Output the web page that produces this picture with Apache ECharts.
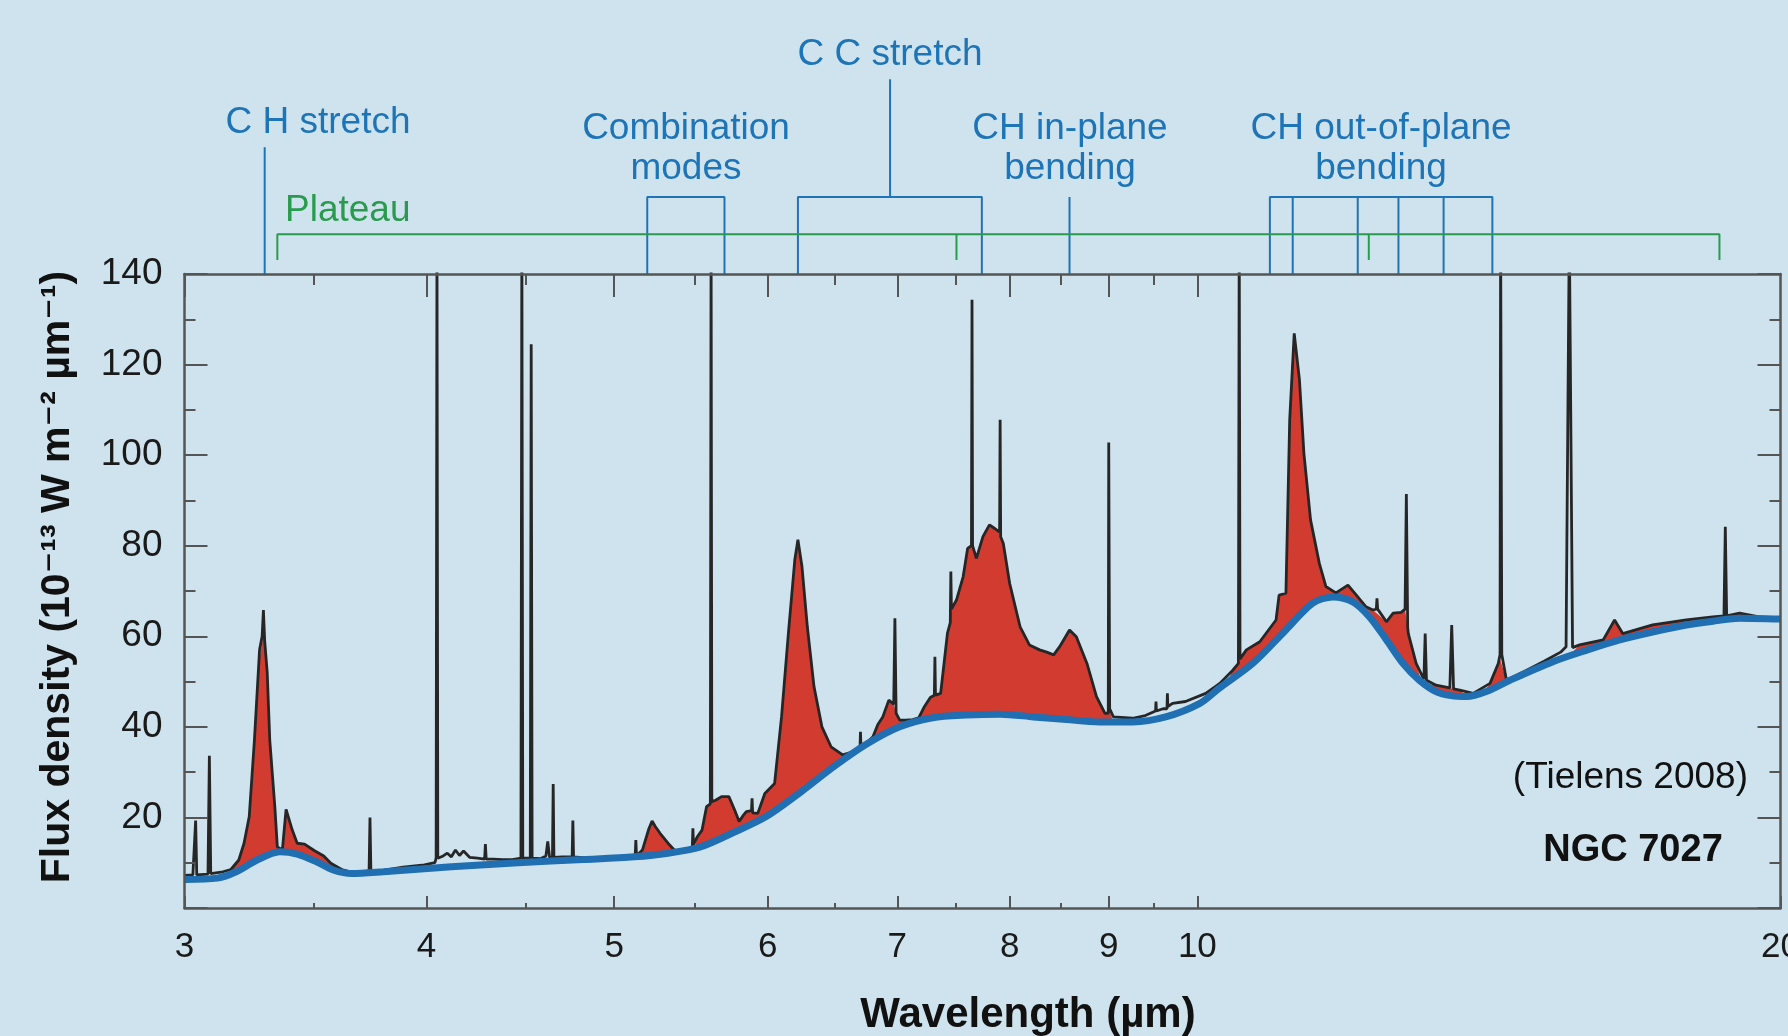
<!DOCTYPE html>
<html>
<head>
<meta charset="utf-8">
<script src="https://cdn.jsdelivr.net/npm/echarts@6/dist/echarts.min.js"></script>
<style>
html, body { margin: 0; padding: 0; background: #cfe3ee; }
#main { width: 1788px; height: 1036px; }
</style>
</head>
<body>
<div id="main"></div>
<script>
// wavelength ticks (micron)
var majorTicks = [3, 4, 5, 6, 7, 8, 9, 10, 20];
var topMajorTicks = [3, 4, 5, 6, 7, 8, 9, 10];
var minorTicks = [3.5, 4.5, 5.5, 6.5, 7.5, 8.5, 9.5];

// smooth continuum under the PAH bands [micron, flux]
var continuum = [
	[3.00, 6.3], [3.12, 6.6], [3.19, 8.0], [3.27, 10.6], [3.36, 12.4], [3.43, 11.9], [3.51, 10.2],
	[3.58, 8.4], [3.66, 7.6], [3.80, 8.0], [4.12, 9.1], [4.46, 10.0], [4.82, 10.7], [5.12, 11.3],
	[5.33, 12.1], [5.54, 13.5], [5.75, 16.5], [5.99, 20.2], [6.25, 25.8], [6.49, 31.2], [6.75, 36.2],
	[7.02, 40.0], [7.30, 42.0], [7.60, 42.6], [7.91, 42.8], [8.23, 42.2], [8.56, 41.6], [8.90, 41.1],
	[9.26, 41.1], [9.63, 42.2], [10.03, 45.2], [10.26, 48.5], [10.68, 54.0], [11.11, 61.4],
	[11.47, 67.3], [11.75, 68.7], [12.03, 67.6], [12.27, 64.3], [12.52, 59.2], [12.77, 54.0],
	[13.02, 50.3], [13.28, 47.8], [13.52, 46.9], [13.77, 46.7], [14.10, 47.8], [14.50, 50.3],
	[15.26, 54.4], [15.90, 57.0], [16.52, 59.2], [17.20, 61.0], [17.88, 62.5], [18.50, 63.4],
	[19.05, 64.0], [20.00, 63.8]
];

// observed spectrum, with the narrow emission lines [micron, flux]
var spectrum = [
	[3.00, 7.2], [3.03, 7.3], [3.036, 7.3], [3.04, 19.3], [3.044, 7.3], [3.085, 7.5], [3.09, 33.6],
	[3.095, 7.6], [3.14, 8.0], [3.17, 8.5], [3.20, 10.6], [3.22, 14.3], [3.24, 20.2], [3.26, 37.1],
	[3.28, 57.0], [3.29, 60.0], [3.295, 65.8], [3.30, 59.0], [3.31, 52.0], [3.32, 37.1], [3.34, 22.4],
	[3.35, 13.5], [3.37, 12.8], [3.385, 21.8], [3.41, 17.2], [3.43, 14.3], [3.46, 14.1], [3.50, 12.7],
	[3.54, 11.5], [3.57, 9.9], [3.62, 8.4], [3.66, 7.9], [3.72, 8.1], [3.736, 8.2], [3.74, 20.0],
	[3.744, 8.2], [3.80, 8.3], [3.89, 9.0], [3.99, 9.5], [4.04, 10.0], [4.046, 11.0], [4.05, 150],
	[4.054, 11.0], [4.08, 11.5], [4.10, 12.1], [4.12, 11.3], [4.14, 12.8], [4.16, 11.6], [4.18, 12.6],
	[4.21, 11.2], [4.25, 11.0], [4.286, 10.8], [4.29, 14.1], [4.294, 10.8], [4.33, 10.8], [4.38, 10.7],
	[4.43, 10.7], [4.475, 11.0], [4.48, 150], [4.485, 11.0], [4.525, 11.0], [4.53, 124.5], [4.535, 11.0],
	[4.58, 10.9], [4.61, 11.5], [4.62, 14.7], [4.63, 11.2], [4.646, 11.2], [4.65, 27.4], [4.654, 11.2],
	[4.70, 11.3], [4.756, 11.3], [4.76, 19.3], [4.764, 11.3], [4.85, 11.0], [4.95, 11.2], [5.05, 11.3],
	[5.126, 11.5], [5.13, 15.0], [5.134, 11.5], [5.17, 12.8], [5.21, 17.5], [5.23, 19.2], [5.25, 18.0],
	[5.28, 16.5], [5.33, 14.3], [5.37, 12.8], [5.42, 12.6], [5.486, 13.2], [5.49, 17.6], [5.494, 14.0],
	[5.52, 15.8], [5.55, 17.2], [5.58, 22.4], [5.605, 23.0], [5.61, 150], [5.615, 23.5], [5.64, 23.8],
	[5.68, 24.6], [5.73, 24.6], [5.77, 21.6], [5.80, 19.1], [5.83, 20.5], [5.85, 21.3], [5.886, 21.5],
	[5.89, 24.2], [5.894, 21.0], [5.93, 20.9], [5.98, 25.3], [6.05, 27.5], [6.10, 42.2], [6.15, 60.7],
	[6.197, 76.9], [6.22, 81.3], [6.25, 75.4], [6.29, 62.1], [6.34, 48.9], [6.40, 40.0], [6.47, 35.6],
	[6.56, 33.8], [6.64, 34.5], [6.696, 35.0], [6.70, 38.9], [6.704, 35.5], [6.75, 36.5], [6.80, 37.8],
	[6.84, 40.5], [6.88, 42.2], [6.93, 45.9], [6.97, 45.0], [6.98, 64.0], [6.99, 43.0], [7.02, 41.5],
	[7.07, 41.5], [7.13, 41.6], [7.18, 42.0], [7.23, 44.5], [7.28, 46.5], [7.315, 47.0], [7.32, 55.5],
	[7.325, 47.0], [7.37, 47.4], [7.43, 60.7], [7.455, 63.0], [7.46, 74.3], [7.465, 66.0], [7.51, 68.0],
	[7.57, 73.2], [7.61, 79.4], [7.645, 80.0], [7.65, 134.3], [7.655, 80.0], [7.69, 77.2], [7.75, 82.0],
	[7.81, 84.6], [7.86, 83.8], [7.905, 83.0], [7.91, 107.8], [7.915, 82.0], [7.94, 80.5], [8.00, 71.7],
	[8.10, 62.1], [8.19, 58.1], [8.29, 57.0], [8.36, 56.5], [8.43, 55.9], [8.49, 57.7], [8.59, 61.4],
	[8.66, 59.9], [8.77, 54.0], [8.87, 46.7], [8.96, 43.0], [8.995, 43.0], [9.00, 102.8], [9.01, 44.0],
	[9.05, 42.2], [9.26, 41.9], [9.40, 42.5], [9.515, 43.5], [9.52, 45.6], [9.525, 43.5], [9.60, 44.0],
	[9.645, 44.0], [9.65, 47.4], [9.655, 44.5], [9.71, 45.2], [9.86, 45.6], [10.10, 47.4], [10.27, 49.6],
	[10.43, 52.5], [10.50, 54.0], [10.51, 150], [10.52, 55.0], [10.60, 57.0], [10.77, 58.8],
	[10.98, 63.6], [11.02, 69.1], [11.11, 69.5], [11.16, 107.8], [11.22, 126.9], [11.29, 116.6],
	[11.35, 100.4], [11.44, 85.7], [11.56, 76.1], [11.65, 71.0], [11.79, 69.6], [11.96, 71.3],
	[12.08, 69.1], [12.22, 66.5], [12.32, 65.8], [12.37, 66.0], [12.38, 68.4], [12.39, 66.0],
	[12.52, 63.2], [12.62, 65.1], [12.74, 65.3], [12.80, 66.0], [12.82, 91.4], [12.84, 62.0],
	[12.85, 60.6], [12.97, 54.0], [13.09, 50.5], [13.11, 60.6], [13.13, 50.3], [13.28, 49.2],
	[13.50, 48.6], [13.53, 62.5], [13.56, 48.4], [13.66, 48.1], [13.88, 47.4], [14.16, 49.6],
	[14.30, 54.0], [14.33, 56.0], [14.34, 150], [14.36, 56.0], [14.44, 50.3], [14.79, 52.5],
	[15.10, 54.5], [15.40, 56.5], [15.50, 57.7], [15.56, 150], [15.62, 57.5], [15.75, 58.1],
	[16.20, 59.2], [16.42, 63.6], [16.58, 60.6], [17.18, 62.5], [17.88, 63.6], [18.45, 64.3],
	[18.70, 64.5], [18.73, 84.2], [18.76, 64.5], [19.05, 65.1], [19.50, 64.3], [20.00, 63.8]
];

// PAH emission (red) - upper edge of each band
var band33 = [
	[3.16, 7.6], [3.20, 10.6], [3.22, 14.3], [3.24, 20.2], [3.26, 37.1], [3.28, 55.0], [3.29, 58.5],
	[3.295, 60.0], [3.30, 58.5], [3.31, 52.0], [3.32, 37.1], [3.34, 22.4], [3.35, 13.5], [3.37, 12.8],
	[3.385, 21.8], [3.41, 17.2], [3.43, 14.3], [3.46, 14.1], [3.50, 12.7], [3.54, 11.5], [3.57, 9.9],
	[3.62, 8.0]
];
var band525 = [
	[5.15, 11.2], [5.17, 12.8], [5.21, 17.5], [5.23, 19.2], [5.25, 18.0], [5.28, 16.5], [5.33, 14.3],
	[5.37, 12.8], [5.40, 12.0]
];
var band62 = [
	[5.50, 13.0], [5.52, 15.8], [5.55, 17.2], [5.58, 22.4], [5.605, 23.0], [5.615, 23.5], [5.64, 23.8],
	[5.68, 24.6], [5.73, 24.6], [5.77, 21.6], [5.80, 19.1], [5.83, 20.5], [5.85, 21.3], [5.93, 20.9],
	[5.98, 25.3], [6.05, 27.5], [6.10, 42.2], [6.15, 60.7], [6.197, 76.9], [6.22, 81.3], [6.25, 75.4],
	[6.29, 62.1], [6.34, 48.9], [6.40, 40.0], [6.47, 35.6], [6.56, 33.8], [6.64, 34.5], [6.70, 35.0]
];
var band77 = [
	[6.75, 35.5], [6.80, 37.8], [6.84, 40.5], [6.88, 42.2], [6.93, 45.9], [6.97, 45.0], [6.99, 43.0],
	[7.02, 41.5], [7.07, 41.5], [7.13, 41.0], [7.18, 42.0], [7.23, 44.5], [7.28, 46.5], [7.37, 47.4],
	[7.43, 60.7], [7.455, 63.0], [7.465, 66.0], [7.51, 68.0], [7.57, 73.2], [7.61, 79.4], [7.65, 80.0],
	[7.69, 77.2], [7.75, 82.0], [7.81, 84.6], [7.86, 83.8], [7.91, 82.5], [7.94, 80.5], [8.00, 71.7],
	[8.10, 62.1], [8.19, 58.1], [8.29, 57.0], [8.36, 56.5], [8.43, 55.9], [8.49, 57.7], [8.59, 61.4],
	[8.66, 59.9], [8.77, 54.0], [8.87, 46.7], [8.96, 43.0], [9.01, 43.5], [9.05, 41.0]
];
var band112 = [
	[10.35, 49.5], [10.43, 52.5], [10.50, 54.0], [10.52, 55.0], [10.60, 57.0], [10.77, 58.8],
	[10.98, 63.6], [11.02, 69.1], [11.11, 69.5], [11.16, 107.8], [11.22, 126.9], [11.29, 116.6],
	[11.35, 100.4], [11.44, 85.7], [11.56, 76.1], [11.65, 71.0], [11.79, 69.6], [11.96, 71.3],
	[12.08, 69.1], [12.22, 66.5], [12.32, 65.8], [12.52, 63.2], [12.62, 65.1], [12.74, 65.3],
	[12.80, 66.0], [12.85, 60.6], [12.97, 54.0], [13.05, 50.0]
];
var band135 = [[13.13, 49.5], [13.28, 49.2], [13.50, 48.6], [13.66, 48.1], [13.80, 46.5]];
var band142 = [[14.05, 47.5], [14.16, 49.6], [14.30, 54.0], [14.33, 55.0], [14.36, 55.0], [14.44, 50.3], [14.55, 50.0]];
var band164 = [
	[15.62, 56.5], [15.75, 58.1], [16.20, 59.2], [16.42, 63.6], [16.58, 60.6], [17.18, 62.5],
	[17.88, 63.6], [18.45, 64.3], [18.70, 64.5], [18.76, 64.5], [19.05, 65.1], [19.50, 64.3], [20.00, 63.8]
];
var pahBands = [band33, band525, band62, band77, band112, band135, band142, band164];

// band identifications (micron)
var chStretch = 3.30;
var comboModes = [5.20, 5.70];
var ccStretch = [6.22, 7.74];
var ccCentre = 6.94;
var chInPlane = 8.59;
var chOutOfPlane = [10.9, 11.2, 12.1, 12.7, 13.4, 14.2];
var plateau = [3.35, 18.6];
var plateauTicks = [7.51, 12.26];

var BG = '#cfe3ee';
var BLUE = '#1d74b7';
var GREEN = '#2a9b4e';
var FONT = '"Liberation Sans", Arial, "DejaVu Sans", sans-serif';

// heights of the bracket lines above the frame (flux units, frame top = 140)
var AXIS_TOP = 140, BRACKET_Y = 157, CH_TOP = 168, CC_TOP = 183, PLATEAU_Y = 148.8, PLATEAU_TICK = 143.1;

function lg(v) {
	return Math.log10(v);
}

function toXY(arr) {
	return arr.map(function(p) {
		return [lg(p[0]), p[1]];
	});
}

var blueSegments = [
	[[chStretch, AXIS_TOP], [chStretch, CH_TOP]],
	[[comboModes[0], AXIS_TOP], [comboModes[0], BRACKET_Y], [comboModes[1], BRACKET_Y], [comboModes[1], AXIS_TOP]],
	[[ccStretch[0], AXIS_TOP], [ccStretch[0], BRACKET_Y], [ccStretch[1], BRACKET_Y], [ccStretch[1], AXIS_TOP]],
	[[ccCentre, BRACKET_Y], [ccCentre, CC_TOP]],
	[[chInPlane, AXIS_TOP], [chInPlane, BRACKET_Y]]
];
var oop0 = chOutOfPlane[0], oopN = chOutOfPlane[chOutOfPlane.length - 1];
blueSegments.push([[oop0, AXIS_TOP], [oop0, BRACKET_Y], [oopN, BRACKET_Y], [oopN, AXIS_TOP]]);
chOutOfPlane.slice(1, -1).forEach(function(w) {
	blueSegments.push([[w, AXIS_TOP], [w, BRACKET_Y]]);
});

var greenSegments = [
	[[plateau[0], PLATEAU_TICK], [plateau[0], PLATEAU_Y], [plateau[1], PLATEAU_Y], [plateau[1], PLATEAU_TICK]]
];
plateauTicks.forEach(function(w) {
	greenSegments.push([[w, PLATEAU_Y], [w, PLATEAU_TICK]]);
});

var series = [];

pahBands.forEach(function(b) {
	series.push({
		type: 'line',
		data: toXY(b),
		symbol: 'none',
		lineStyle: { width: 0 },
		areaStyle: { color: '#d23b30', opacity: 1 },
		silent: true,
		z: 2
	});
});

// hide the red below the continuum
series.push({
	type: 'line',
	data: toXY(continuum),
	symbol: 'none',
	smooth: 0.3,
	lineStyle: { width: 0 },
	areaStyle: { color: BG, opacity: 1, origin: 'start' },
	silent: true,
	z: 3
});

series.push({
	type: 'line',
	data: toXY(spectrum),
	symbol: 'none',
	lineStyle: { color: '#262626', width: 2.8 },
	silent: true,
	z: 4
});

series.push({
	type: 'line',
	data: toXY(continuum),
	symbol: 'none',
	smooth: 0.3,
	lineStyle: { color: '#1f6fb2', width: 7 },
	silent: true,
	z: 5
});

function pushSegments(list, color) {
	list.forEach(function(s) {
		series.push({
			type: 'line',
			data: toXY(s),
			symbol: 'none',
			clip: false,
			lineStyle: { color: color, width: 2 },
			silent: true,
			z: 6
		});
	});
}
pushSegments(blueSegments, BLUE);
pushSegments(greenSegments, GREEN);

var tickLine = { color: '#555', width: 2 };
var frameLine = { color: '#555', width: 2.5 };

function xAxisOf(pos, ticks, len, showLine, showLabel) {
	return {
		type: 'value',
		position: pos,
		offset: 0,
		min: lg(3),
		max: lg(20),
		axisLine: { show: showLine, lineStyle: frameLine },
		axisTick: { inside: true, length: len, customValues: ticks.map(lg), lineStyle: tickLine },
		axisLabel: showLabel ? {
			customValues: majorTicks.map(lg),
			formatter: function(v) {
				return Math.round(Math.pow(10, v));
			},
			fontSize: 35,
			fontFamily: FONT,
			color: '#1a1a1a',
			margin: 22
		} : { show: false },
		splitLine: { show: false },
		z: 10
	};
}

function yAxisOf(pos, showLabel) {
	return {
		type: 'value',
		position: pos,
		min: 0,
		max: 140,
		interval: 20,
		axisLine: { show: true, lineStyle: frameLine },
		axisTick: { inside: true, length: 23, lineStyle: tickLine },
		minorTick: { show: true, splitNumber: 2, length: 11, lineStyle: tickLine },
		axisLabel: showLabel ? {
			formatter: function(v) {
				return v === 0 ? '' : v;
			},
			fontSize: 37,
			fontFamily: FONT,
			color: '#1a1a1a',
			margin: 22
		} : { show: false },
		splitLine: { show: false },
		minorSplitLine: { show: false },
		z: 10
	};
}

function label(text, x, y, opts) {
	opts = opts || {};
	return {
		type: 'text',
		x: x,
		y: y,
		rotation: opts.rotation || 0,
		silent: true,
		z: 20,
		style: {
			text: text,
			fill: opts.color || BLUE,
			font: (opts.weight || 'normal') + ' ' + (opts.size || 37) + 'px ' + FONT,
			textAlign: opts.align || 'center',
			textVerticalAlign: 'middle',
			lineHeight: opts.lineHeight || 40
		}
	};
}

var chart = echarts.init(document.getElementById('main'));
chart.setOption({
	backgroundColor: BG,
	animation: false,
	grid: {
		left: 184.5,
		right: 7.5,
		top: 274,
		bottom: 128,
		containLabel: false,
		outerBoundsMode: 'none'
	},
	xAxis: [
		xAxisOf('bottom', majorTicks, 12, true, true),
		xAxisOf('bottom', minorTicks, 5, false, false),
		xAxisOf('top', topMajorTicks, 23, true, false),
		xAxisOf('top', minorTicks, 11, false, false)
	],
	yAxis: [yAxisOf('left', true), yAxisOf('right', false)],
	series: series,
	graphic: [
		label('C H stretch', 318, 123),
		label('Plateau', 285, 211, { color: GREEN, align: 'left' }),
		label('Combination\nmodes', 686, 149),
		label('C C stretch', 890, 55),
		label('CH in-plane\nbending', 1070, 149),
		label('CH out-of-plane\nbending', 1381, 149),
		label('(Tielens 2008)', 1748, 778, { color: '#111', align: 'right' }),
		label('NGC 7027', 1633, 851, { color: '#111', weight: 'bold', size: 38 }),
		label('Wavelength (µm)', 1028, 1015, { color: '#111', weight: 'bold', size: 42 }),
		label('Flux density (10⁻¹³ W m⁻² µm⁻¹)', 58, 577, { color: '#111', weight: 'bold', size: 41, rotation: Math.PI / 2 })
	]
});
</script>
</body>
</html>
